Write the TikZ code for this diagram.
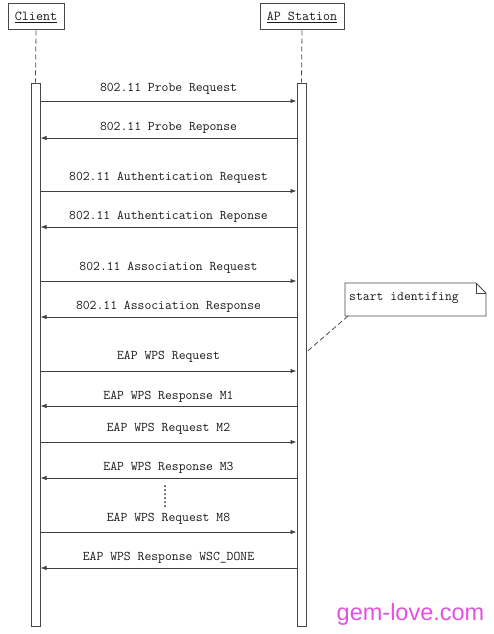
\documentclass[tikz,border=0pt]{standalone}
\usepackage{fontspec}
\usetikzlibrary{arrows.meta}
\newfontfamily\wmfont{Liberation Sans}
\begin{document}
\begin{tikzpicture}[x=1pt,y=-1pt,
  ink/.style={draw=black!72, line width=1pt},
  actor/.style={ink, minimum height=26pt, inner sep=0pt, font=\fontsize{13.6}{15}\selectfont\ttfamily, text=black!90},
  bar/.style={ink, fill=white, minimum width=9pt, inner sep=0pt},
  msg/.style={draw=black!75, line width=0.9pt, -{Latex[length=6pt,width=4.5pt]}},
  lbl/.style={font=\fontsize{13.3}{15}\selectfont\ttfamily, text=black!90, inner sep=0pt},
  life/.style={draw=black!70, dashed, line width=0.8pt, dash pattern=on 5pt off 3pt},
  dotmark/.style={fill=black!85, circle, inner sep=0pt, minimum size=2pt}]
\useasboundingbox (0,0) rectangle (494,634);

% actors
\node[actor, minimum width=56pt] (client) at (36,17) {\underline{Client}};
\node[actor, minimum width=84pt] (ap) at (302,17) {\underline{AP Station}};

% activation bars
\node[bar, minimum height=543pt] (cb) at (35.5,354.5) {};
\node[bar, minimum height=543pt] (ab) at (301.5,354.5) {};

% lifelines
\draw[life] (client.south) -- (cb.north);
\draw[life] (ap.south) -- (ab.north);

% messages
\foreach \y/\ty/\d/\t in {
  101/88.5/r/{802.11 Probe Request},
  138/127.5/l/{802.11 Probe Reponse},
  191/177.5/r/{802.11 Authentication Request},
  227/216.5/l/{802.11 Authentication Reponse},
  281/267.5/r/{802.11 Association Request},
  317/306.5/l/{802.11 Association Response},
  371/356.5/r/{EAP WPS Request},
  406/396.5/l/{EAP WPS Response M1},
  442/428.5/r/{EAP WPS Request M2},
  478/467.5/l/{EAP WPS Response M3},
  532/518.5/r/{EAP WPS Request M8},
  568/557.5/l/{EAP WPS Response WSC\_DONE}}{
  \node[lbl] (m\y) at (168.5,\ty) {\t};
  \if r\d
    \draw[msg] (cb.east |- 0,\y) -- (ab.west |- 0,\y);
  \else
    \draw[msg] (ab.west |- 0,\y) -- (cb.east |- 0,\y);
  \fi
}

% vertical ellipsis
\foreach \k in {0,...,5}{
  \node[dotmark] at (165,486+4*\k) {};
}

% note
\node[lbl, anchor=west] (note) at (349,298) {start identifing};
\draw[ink, line width=0.9pt] (345,283) -- (476,283) -- (486,293) -- (486,316) -- (345,316) -- cycle;
\draw[ink, line width=0.9pt] (476,283) -- (476,293) -- (486,293);
\coordinate (notec) at (348,316);
\draw[life] (notec) -- (ab.east |- 0,352);

% watermark
\node[font=\wmfont\fontsize{23.5}{26}\selectfont, text={rgb,255:red,228;green,80;blue,228}, inner sep=0pt] (wm) at (410.5,614) {gem-love.com};
\end{tikzpicture}
\end{document}
